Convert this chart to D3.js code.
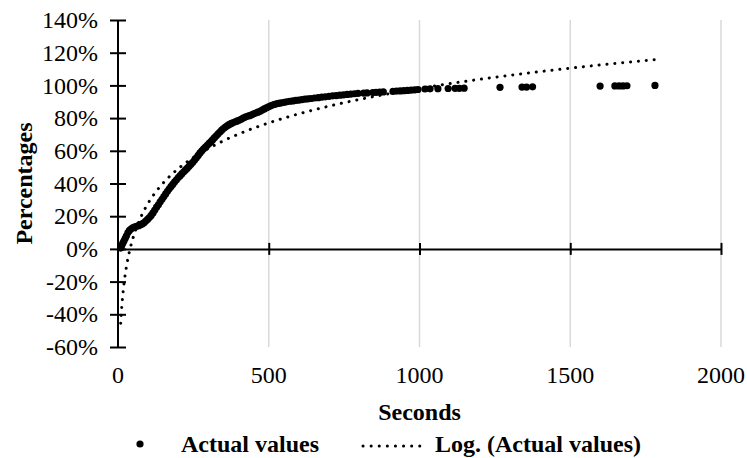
<!DOCTYPE html>
<html>
<head>
<meta charset="utf-8">
<script src="https://cdn.jsdelivr.net/npm/d3@7"></script>
<style>
  body { margin: 0; background: #fff; }
  svg { display: block; }
  text { font-family: "Liberation Serif", "Times New Roman", serif; fill: #000; }
</style>
</head>
<body>
<svg id="chart"></svg>
<script>
var seconds = [9, 12, 16, 20, 24, 28, 33, 38, 44, 50, 56, 62, 68, 74, 80, 86, 92, 98,
  104, 110, 116, 122, 128, 134, 140, 146, 152, 158, 164, 170, 176, 182, 188, 194,
  200, 206, 212, 218, 224, 230, 236, 242, 248, 254, 260, 266, 272, 278, 284, 290,
  296, 302, 308, 314, 320, 326, 332, 338, 344, 350, 356, 362, 368, 374, 380, 387,
  394, 401, 408, 415, 422, 429, 436, 443, 450, 457, 464, 471, 478, 485, 492, 499,
  506, 513, 520, 528, 536, 544, 552, 560, 570, 580, 590, 600, 610, 620, 630, 640,
  652, 664, 676, 688, 700, 712, 724, 736, 748, 760, 772, 784, 796, 815, 826, 845,
  856, 868, 880, 912, 924, 936, 948, 960, 972, 984, 995, 1018, 1035, 1061, 1095,
  1118, 1132, 1148, 1267, 1340, 1355, 1375, 1599, 1648, 1662, 1675, 1688, 1781];
var percents = [0.5, 2, 3.5, 5, 6.5, 8, 10, 11.3, 12.3, 13, 13.5, 13.8, 14.2, 14.7,
  15.3, 16, 17, 18, 19.2, 20.5, 22, 23.8, 25.5, 27, 28.8, 30.3, 32, 33.6, 35.2,
  36.8, 38.2, 39.6, 41, 42.3, 43.6, 44.8, 46, 47.2, 48.3, 49.4, 50.6, 51.8, 53,
  54.3, 55.7, 57.2, 58.7, 60, 61.2, 62.3, 63.4, 64.5, 65.6, 66.8, 68, 69.2, 70.4,
  71.5, 72.6, 73.6, 74.5, 75.3, 76, 76.6, 77.1, 77.6, 78.1, 78.7, 79.3, 80, 80.6,
  81.1, 81.5, 82, 82.6, 83.1, 83.6, 84.2, 84.9, 85.6, 86.3, 86.9, 87.5, 88, 88.4,
  88.8, 89.1, 89.4, 89.7, 90, 90.3, 90.5, 90.8, 91, 91.3, 91.6, 91.8, 92, 92.3,
  92.5, 92.8, 93, 93.3, 93.6, 93.8, 94, 94.2, 94.5, 94.7, 94.9, 95.1, 95.3, 95.4,
  95.6, 95.7, 95.9, 96, 96.3, 96.5, 96.6, 96.8, 96.9, 97.1, 97.3, 97.5, 97.8, 97.9,
  98, 98.1, 98.2, 98.2, 98.3, 98.8, 99, 99, 99.1, 99.6, 99.7, 99.7, 99.7, 99.8, 100];

// logarithmic trendline y = a*ln(x) + b (percent), as shown in the reference
var trendA = 30.5;
var trendB = -112.5;

var xTicks = [0, 500, 1000, 1500, 2000];
var yTicks = [-60, -40, -20, 0, 20, 40, 60, 80, 100, 120, 140];
var legendLabels = ["Actual values", "Log. (Actual values)"];

var W = 747, H = 458;
var margin = { top: 20, right: 26, bottom: 111, left: 118 },
    w = W - margin.left - margin.right,
    h = H - margin.top - margin.bottom;

var svg = d3.select("#chart").attr("width", W).attr("height", H);
var g = svg.append("g").attr("transform", `translate(${margin.left}, ${margin.top})`);

var x = d3.scaleLinear().domain([0, 2000]).range([0, w]);
var y = d3.scaleLinear().domain([-60, 140]).range([h, 0]);

// vertical gridlines
g.selectAll(".grid")
  .data(xTicks.filter(d => d > 0))
  .join("line")
  .attr("class", "grid")
  .attr("x1", d => x(d)).attr("x2", d => x(d))
  .attr("y1", 0).attr("y2", h)
  .attr("stroke", "#d9d9d9")
  .attr("stroke-width", 1.5);

// x axis sits on 0%
var xAxis = g.append("g")
  .attr("transform", `translate(0, ${y(0)})`)
  .call(d3.axisBottom(x).tickValues(xTicks).tickSize(0).tickFormat(""));
xAxis.select(".domain").attr("stroke", "#000").attr("stroke-width", 2);
xAxis.selectAll(".tick").filter(d => d > 0).append("line")
  .attr("y1", -6).attr("y2", 6).attr("stroke", "#000").attr("stroke-width", 2);

// x tick labels at the bottom of the plot
g.selectAll(".xlab")
  .data(xTicks)
  .join("text")
  .attr("class", "xlab")
  .attr("x", d => x(d))
  .attr("y", h + 36)
  .attr("text-anchor", "middle")
  .style("font-size", "24px")
  .text(d => d);

// y axis
var yAxis = g.append("g")
  .call(d3.axisLeft(y).tickValues(yTicks).tickSize(8).tickPadding(12).tickFormat(d => d + "%"));
yAxis.select(".domain").attr("stroke", "#000").attr("stroke-width", 2).attr("d", `M0,0V${h}`);
yAxis.selectAll(".tick line").attr("x1", -8).attr("x2", 8).attr("stroke", "#000").attr("stroke-width", 2);
yAxis.selectAll(".tick text").style("font-size", "24px").attr("font-family", null);

// trendline
var trendX = d3.range(0, 401).map(i => seconds[0] * Math.pow(d3.max(seconds) / seconds[0], i / 400));
g.append("path")
  .datum(trendX)
  .attr("fill", "none")
  .attr("stroke", "#000")
  .attr("stroke-width", 3)
  .attr("stroke-linecap", "round")
  .attr("stroke-dasharray", "0.1 7.8")
  .attr("d", d3.line().x(d => x(d)).y(d => y(trendA * Math.log(d) + trendB)));

// actual values
g.selectAll(".pt")
  .data(seconds)
  .join("circle")
  .attr("class", "pt")
  .attr("cx", d => x(d))
  .attr("cy", (d, i) => y(percents[i]))
  .attr("r", 3.6)
  .attr("fill", "#000");

// axis titles
svg.append("text")
  .attr("x", margin.left + w / 2)
  .attr("y", 420)
  .attr("text-anchor", "middle")
  .style("font-size", "24px")
  .style("font-weight", "bold")
  .text("Seconds");

svg.append("text")
  .attr("transform", `translate(32, ${margin.top + y(40)}) rotate(-90)`)
  .attr("text-anchor", "middle")
  .style("font-size", "24px")
  .style("font-weight", "bold")
  .text("Percentages");

// legend
var lg = svg.append("g").attr("transform", "translate(0, 452)");
lg.append("circle").attr("cx", 140).attr("cy", -8).attr("r", 3.6).attr("fill", "#000");
lg.append("text").attr("x", 181).attr("y", 0).style("font-size", "24px").style("font-weight", "bold").text(legendLabels[0]);
lg.append("line")
  .attr("x1", 363).attr("x2", 427).attr("y1", -6).attr("y2", -6)
  .attr("stroke", "#000").attr("stroke-width", 3)
  .attr("stroke-linecap", "round").attr("stroke-dasharray", "0.1 8");
lg.append("text").attr("x", 435).attr("y", 0).style("font-size", "24px").style("font-weight", "bold").text(legendLabels[1]);
</script>
</body>
</html>
